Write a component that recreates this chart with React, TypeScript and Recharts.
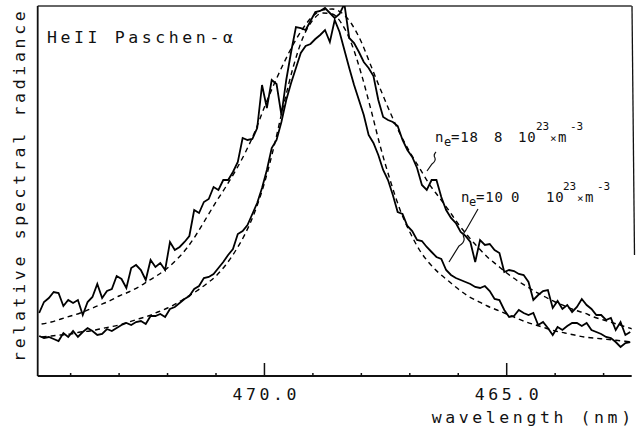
import React from "react";
import { LineChart, Line, XAxis, YAxis, ReferenceLine } from "recharts";

// measured spectra, 0.1 nm grid starting at 474.65 nm (relative units)
const BROAD_MEAS = [
  63, 74, 78, 84, 83, 70, 76, 73, 76, 61, 74, 79, 92, 78, 85, 87, 100, 97, 88, 108,
  111, 106, 96, 116, 109, 113, 106, 134, 126, 129, 134, 140, 166, 163, 174, 177, 189, 186, 196, 196,
  204, 214, 238, 236, 237, 248, 291, 268, 296, 292, 261, 296, 324, 349, 348, 346, 355, 364, 365, 368,
  363, 358, 362, 372, 338, 333, 324, 314, 308, 300, 276, 259, 256, 254, 250, 236, 226, 219, 208, 191,
  186, 196, 196, 179, 166, 158, 153, 144, 140, 134, 114, 136, 131, 132, 126, 123, 104, 106, 105, 102,
  101, 94, 76, 81, 85, 86, 68, 75, 67, 71, 64, 69, 77, 71, 67, 61, 61, 56, 58, 46,
  54, 41, 44,
];
const NARROW_MEAS = [
  40, 38, 39, 37, 35, 43, 39, 45, 39, 44, 48, 45, 41, 42, 47, 45, 48, 51, 53, 51,
  54, 55, 52, 60, 60, 62, 59, 67, 69, 73, 77, 80, 87, 90, 98, 99, 102, 108, 114, 121,
  127, 142, 145, 151, 162, 173, 188, 206, 228, 236, 254, 276, 293, 308, 323, 330, 332, 337, 341, 346,
  334, 356, 344, 326, 308, 291, 276, 261, 241, 233, 221, 206, 196, 181, 164, 162, 150, 145, 136, 135,
  129, 124, 119, 117, 106, 101, 98, 96, 94, 92, 89, 88, 90, 85, 77, 76, 66, 59, 60, 66,
  63, 61, 63, 51, 54, 48, 41, 49, 46, 50, 53, 53, 50, 53, 46, 44, 42, 39, 38, 34,
  29, 33, 34,
];

// Lorentzian fits, 0.2 nm grid starting at 474.6 nm
const BROAD_FIT = [
  52, 54, 57, 60, 63, 67, 71, 75, 80, 84, 89, 95, 101, 108, 117, 128, 142, 158, 174, 189,
  205, 223, 244, 269, 292, 313, 332, 348, 360, 366, 367, 363, 352, 334, 310, 286, 263, 242, 224, 208,
  192, 179, 166, 152, 140, 129, 119, 111, 103, 96, 90, 84, 79, 74, 70, 66, 63, 59, 56, 53,
  50, 47,
];
const NARROW_FIT = [
  39, 40, 41, 42, 44, 45, 47, 49, 51, 54, 57, 60, 64, 68, 73, 79, 85, 92, 100, 111,
  125, 142, 164, 193, 230, 272, 310, 339, 356, 363, 362, 352, 332, 302, 266, 228, 195, 166, 144, 126,
  113, 103, 95, 87, 80, 75, 70, 66, 62, 58, 54, 51, 48, 45, 43, 41, 39, 38, 37, 36,
  35, 34,
];

const X_TICKS = [474, 473, 472, 471, 470, 469, 468, 467, 466, 465, 464, 463];
const MAJOR_TICKS = [470, 465];

const measData = BROAD_MEAS.map((v, i) => ({
  wl: +(474.65 - 0.1 * i).toFixed(2),
  broad: v,
  narrow: NARROW_MEAS[i],
}));
const fitData = BROAD_FIT.map((v, i) => ({
  wl: +(474.6 - 0.2 * i).toFixed(2),
  broadFit: v,
  narrowFit: NARROW_FIT[i],
}));

const FONT = "'DejaVu Sans Mono', monospace";
const INK = "#111";

function WaveTick(props: any) {
  const { x, y, payload } = props;
  const major = MAJOR_TICKS.includes(payload.value);
  return (
    <g>
      <line x1={x} x2={x} y1={y} y2={y - (major ? 13 : 3)} stroke={INK} strokeWidth={1.5} />
      {major && (
        <text
          x={x + 1.8}
          y={y + 24}
          textAnchor="middle"
          fontFamily={FONT}
          fontSize={16.5}
          letterSpacing={3.6}
          fill={INK}
        >
          {payload.value.toFixed(1)}
        </text>
      )}
    </g>
  );
}

function Overlay() {
  const t = { fontFamily: FONT, fill: INK };
  const sup = { ...t, fontSize: 11 };
  const main = { ...t, fontSize: 14, letterSpacing: 0.8 };
  return (
    <svg width={636} height={429} style={{ position: "absolute", left: 0, top: 0, pointerEvents: "none" }}>
      <text x={47} y={43} {...t} fontSize={16.5} letterSpacing={3.6}>
        HeII Paschen-α
      </text>
      <text
        x={25}
        y={362}
        transform="rotate(-90 25 362)"
        {...t}
        fontSize={16.5}
        letterSpacing={3.7}
      >
        relative spectral radiance
      </text>
      <text x={634.7} y={423} textAnchor="end" {...t} fontSize={16.5} letterSpacing={3.6}>
        wavelength (nm)
      </text>

      {/* n_e = 18.8 label */}
      <text x={435} y={142} {...main}>n</text>
      <text x={444} y={146} {...t} fontSize={12}>e</text>
      <text x={451} y={142} {...main}>=18</text>
      <text x={494} y={142} {...main}>8</text>
      <text x={518} y={142} {...main}>10</text>
      <text x={536} y={130} {...sup}>23</text>
      <text x={550} y={142} {...sup}>×</text>
      <text x={558} y={142} {...main}>m</text>
      <text x={570} y={130} {...sup}>-3</text>
      <path d="M436 152 q-3 3 -1 6 q1 3 -3 6 L427 171" fill="none" stroke={INK} strokeWidth={1.2} />

      {/* n_e = 10.0 label */}
      <text x={461} y={202} {...main}>n</text>
      <text x={469} y={206} {...t} fontSize={12}>e</text>
      <text x={476} y={202} {...main}>=10</text>
      <text x={511} y={202} {...main}>0</text>
      <text x={546} y={202} {...main}>10</text>
      <text x={563} y={190} {...sup}>23</text>
      <text x={577} y={202} {...sup}>×</text>
      <text x={585} y={202} {...main}>m</text>
      <text x={597} y={190} {...sup}>-3</text>
      <path d="M478 209 L466 230 q-4 4 -2 8 q1 4 -5 8 L449 262" fill="none" stroke={INK} strokeWidth={1.2} />

      {/* partial right frame */}
      <line x1={632} y1={6} x2={634.5} y2={255} stroke={INK} strokeWidth={1.3} />
    </svg>
  );
}

export default function App() {
  return (
    <div style={{ position: "absolute", left: 0, top: 0, width: 636, height: 429, background: "#fff" }}>
      <LineChart width={636} height={429} margin={{ top: 6, right: 4.3, bottom: 0, left: 0 }}>
        <XAxis
          type="number"
          dataKey="wl"
          domain={[462.42, 474.68]}
          reversed
          allowDataOverflow
          ticks={X_TICKS}
          interval={0}
          tickSize={0}
          tickMargin={0}
          tickLine={false}
          tick={<WaveTick />}
          height={53}
          axisLine={{ stroke: INK, strokeWidth: 1.8 }}
        />
        <YAxis
          type="number"
          domain={[0, 370]}
          allowDataOverflow
          width={37.7}
          tick={false}
          tickLine={false}
          axisLine={{ stroke: INK, strokeWidth: 1.8 }}
        />
        <ReferenceLine y={370} stroke="#333" strokeWidth={1.5} />
        <Line
          data={fitData}
          dataKey="broadFit"
          type="monotone"
          stroke="#000"
          strokeWidth={1.4}
          strokeDasharray="5 4"
          dot={false}
          isAnimationActive={false}
        />
        <Line
          data={fitData}
          dataKey="narrowFit"
          type="monotone"
          stroke="#000"
          strokeWidth={1.4}
          strokeDasharray="5 4"
          dot={false}
          isAnimationActive={false}
        />
        <Line
          data={measData}
          dataKey="narrow"
          type="linear"
          stroke="#000"
          strokeWidth={1.8}
          dot={false}
          isAnimationActive={false}
        />
        <Line
          data={measData}
          dataKey="broad"
          type="linear"
          stroke="#000"
          strokeWidth={1.8}
          dot={false}
          isAnimationActive={false}
        />
      </LineChart>
      <Overlay />
    </div>
  );
}
